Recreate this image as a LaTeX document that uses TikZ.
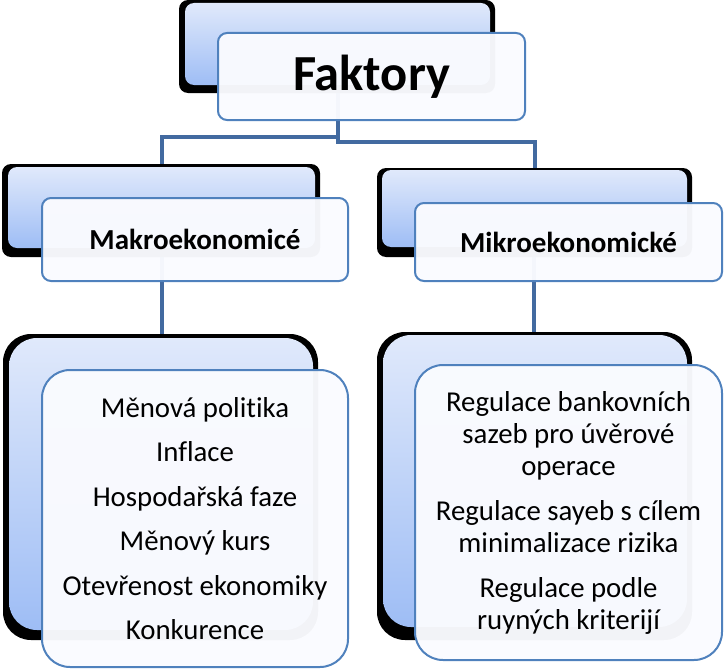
\documentclass[tikz,border=0pt]{standalone}
\usepackage{fontspec}
\setmainfont{Carlito}[Ligatures=NoCommon]
\definecolor{conncol}{RGB}{66,106,160}
\definecolor{frontborder}{RGB}{79,129,189}
\definecolor{frontfill}{RGB}{250,251,255}
\definecolor{gradtop}{RGB}{224,233,251}
\definecolor{gradbot}{RGB}{158,189,245}
\tikzset{
  conn/.style={draw=conncol, line width=4pt},
  shadowbox/.style={rectangle, fill=black, inner sep=0pt, outer sep=0pt},
  backbox/.style={rectangle, inner sep=0pt, outer sep=0pt, top color=gradtop, bottom color=gradbot, draw=none},
  frontbox/.style={rectangle, inner sep=0pt, outer sep=0pt, draw=frontborder, line width=2pt, fill=frontfill, fill opacity=0.97, text opacity=1, align=center},
  small/.style={rounded corners=9pt},
  big/.style={rounded corners=28pt},
  headtext/.style={font=\fontsize{29}{32}\selectfont\bfseries},
}
\begin{document}
\begin{tikzpicture}[x=1pt,y=-1pt]
\useasboundingbox (0,0) rectangle (725,669);
% connectors
\coordinate (tbs0) at (337.5,85);
\coordinate (lbn) at (161.5,167);
\coordinate (rbn) at (534.5,170);
\draw[conn] (tbs0) -- ++(0,52) -| (lbn);
\draw[conn] (tbs0) -- ++(0,57) -| (rbn);
\coordinate (lbs0) at (162,248);
\coordinate (lln) at (162,338);
\coordinate (rbs0) at (533.5,247);
\coordinate (rln) at (533.5,335);
\draw[conn] (lbs0) -- (lln);
\draw[conn] (rbs0) -- (rln);
% shadows
\node[shadowbox, small, minimum width=316pt, minimum height=93pt] (tbsh) at (337,46.5) {};
\node[shadowbox, small, minimum width=318pt, minimum height=93pt] (lbsh) at (161,210.5) {};
\node[shadowbox, small, minimum width=315pt, minimum height=89pt] (rbsh) at (534.5,212.5) {};
\node[shadowbox, big, minimum width=315pt, minimum height=306pt] (llsh) at (160.5,487) {};
\node[shadowbox, big, minimum width=315pt, minimum height=308pt] (rlsh) at (534.5,486) {};
% back boxes
\node[backbox, small, minimum width=305pt, minimum height=82pt] (tb) at (337.5,44) {};
\node[backbox, small, minimum width=307pt, minimum height=81pt] (lb) at (161.5,207.5) {};
\node[backbox, small, minimum width=305pt, minimum height=77pt] (rb) at (534.5,208.5) {};
\node[backbox, big, minimum width=304pt, minimum height=292pt] (ll) at (161,484) {};
\node[backbox, big, minimum width=304pt, minimum height=292pt] (rl) at (535,481) {};
% front boxes
\node[frontbox, small, minimum width=307pt, minimum height=87pt, font=\fontsize{50.5}{52}\selectfont\bfseries] (tf) at (371.5,76.5) {Faktory};
\node[frontbox, small, minimum width=306pt, minimum height=83pt, headtext] (lf) at (195,239.5) {Makroekonomicé};
\node[frontbox, small, minimum width=307pt, minimum height=78pt, headtext] (rf) at (568.5,242) {Mikroekonomické};
\node[frontbox, big, minimum width=306pt, minimum height=297pt, font=\fontsize{28.8}{44.5}\selectfont] (llf) at (195,518.5) {Měnová politika\\Inflace\\Hospodařská faze\\Měnový kurs\\Otevřenost ekonomiky\\Konkurence};
\node[frontbox, big, minimum width=307pt, minimum height=295pt, font=\fontsize{28.8}{32}\selectfont] (rlf) at (568.5,512.5) {Regulace bankovních\\sazeb pro úvěrové\\operace\\[13pt]Regulace sayeb s cílem\\minimalizace rizika\\[13pt]Regulace podle\\ruyných kriterijí};
\end{tikzpicture}
\end{document}
